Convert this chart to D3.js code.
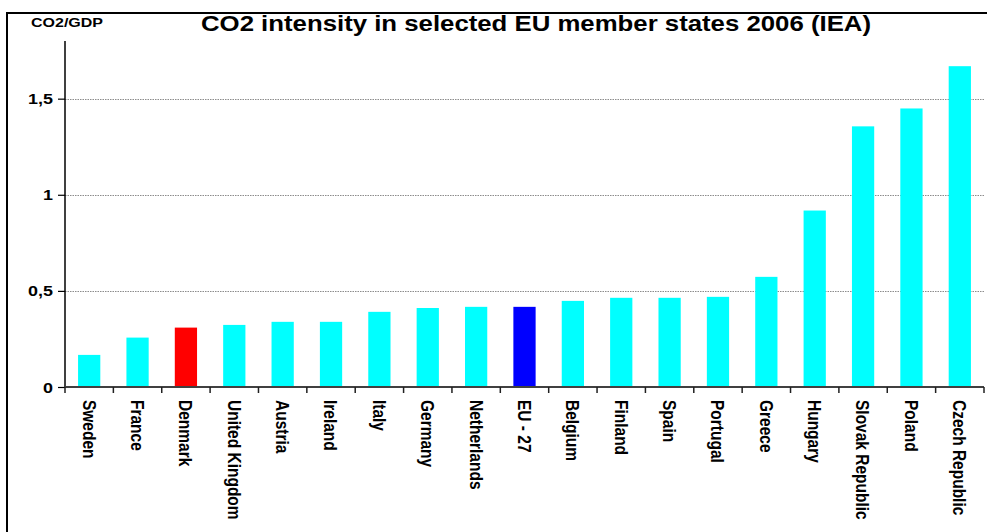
<!DOCTYPE html>
<html>
<head>
<meta charset="utf-8">
<script src="https://cdn.jsdelivr.net/npm/d3@7"></script>
<style>
  html, body { margin: 0; padding: 0; background: #fff; }
  svg { display: block; }
  text { font-family: Arial, "Liberation Sans", sans-serif; font-weight: bold; fill: #000; }
</style>
</head>
<body>
<svg id="chart" width="987" height="532"></svg>
<script>
// CO2 intensity (CO2 per unit of GDP), 2006, IEA
const countries = ["Sweden", "France", "Denmark", "United Kingdom", "Austria", "Ireland",
  "Italy", "Germany", "Netherlands", "EU - 27", "Belgium", "Finland", "Spain",
  "Portugal", "Greece", "Hungary", "Slovak Republic", "Poland", "Czech Republic"];
const intensity = [0.167, 0.257, 0.309, 0.323, 0.339, 0.339, 0.391, 0.411, 0.417, 0.417,
  0.448, 0.464, 0.464, 0.469, 0.573, 0.918, 1.356, 1.449, 1.669];
const highlighted = { "Denmark": "#ff0000", "EU - 27": "#0000ff" };
const baseColor = "#00ffff";
const yTicks = [0, 0.5, 1, 1.5];
const yMax = 1.8;
const titleText = "CO2 intensity in selected EU member states 2006 (IEA)";
const yLabel = "CO2/GDP";

const svg = d3.select("#chart");
const plot = { left: 65, right: 984, top: 41, bottom: 387 };

// stretch a horizontal label to a wider target width
function widen(sel, target) {
  sel.each(function () {
    const w = this.getComputedTextLength();
    const t = typeof target === "function" ? target(w) : target;
    d3.select(this).attr("textLength", t).attr("lengthAdjust", "spacingAndGlyphs");
  });
}

// frame lines (left and top)
svg.append("line").attr("x1", 7).attr("x2", 7).attr("y1", 12).attr("y2", 532)
  .attr("stroke", "#000").attr("stroke-width", 2);
svg.append("line").attr("x1", 6).attr("x2", 987).attr("y1", 13).attr("y2", 13)
  .attr("stroke", "#000").attr("stroke-width", 2);

const x = d3.scaleBand().domain(countries)
  .range([plot.left, plot.right]).paddingInner(0.54).paddingOuter(0.27);
const y = d3.scaleLinear().domain([0, yMax]).range([plot.bottom, plot.top]);

const locale = d3.formatLocale({ decimal: ",", thousands: ".", grouping: [3], currency: ["", ""] });
const fmt = locale.format("~g");

// gridlines
svg.append("g").selectAll("line").data(yTicks.filter(d => d > 0)).join("line")
  .attr("x1", plot.left).attr("x2", plot.right)
  .attr("y1", d => Math.round(y(d)) + 0.5).attr("y2", d => Math.round(y(d)) + 0.5)
  .attr("stroke", "#8c8c8c").attr("stroke-width", 1).attr("stroke-dasharray", "1.5,1");

// bars
svg.append("g").selectAll("rect").data(countries).join("rect")
  .attr("x", d => x(d))
  .attr("width", x.bandwidth())
  .attr("y", (d, i) => y(intensity[i]))
  .attr("height", (d, i) => y(0) - y(intensity[i]))
  .attr("fill", d => highlighted[d] || baseColor);

// y axis
const yAxis = svg.append("g").attr("transform", `translate(${plot.left},0)`)
  .call(d3.axisLeft(y).tickValues(yTicks).tickFormat(fmt).tickSize(7).tickPadding(5));
yAxis.select(".domain").attr("d", `M0,${plot.top}V${plot.bottom}`).attr("stroke", "#000").attr("stroke-width", 1.5);
yAxis.selectAll(".tick line").attr("stroke", "#000").attr("stroke-width", 1.2);
yAxis.selectAll(".tick text").attr("font-size", 14).attr("font-family", null).attr("fill", "#000")
  .attr("dy", "0.36em");
widen(yAxis.selectAll(".tick text"), w => w * 1.28);

// x axis: baseline with ticks at category boundaries
const xg = svg.append("g");
xg.append("line").attr("x1", plot.left).attr("x2", plot.right)
  .attr("y1", plot.bottom).attr("y2", plot.bottom)
  .attr("stroke", "#404040").attr("stroke-width", 2);
const step = x.step();
const bounds = d3.range(countries.length + 1).map(i => plot.left + i * step);
xg.selectAll("line.tk").data(bounds).join("line").attr("class", "tk")
  .attr("x1", d => d).attr("x2", d => d)
  .attr("y1", plot.bottom).attr("y2", plot.bottom + 6)
  .attr("stroke", "#202020").attr("stroke-width", 1.5);

// category labels, rotated and slightly widened across the page
xg.selectAll("text").data(countries).join("text")
  .attr("transform", d => `translate(${x(d) + x.bandwidth() / 2},400) scale(1.18,1) rotate(90)`)
  .attr("dy", "0.36em")
  .attr("font-size", 15.5)
  .text(d => d);

// title and unit label
const title = svg.append("text").attr("x", 536).attr("y", 31)
  .attr("text-anchor", "middle").attr("font-size", 21.5).text(titleText);
widen(title, 670);
const unit = svg.append("text").attr("x", 31).attr("y", 27)
  .attr("font-size", 12).text(yLabel);
widen(unit, 72);
</script>
</body>
</html>
